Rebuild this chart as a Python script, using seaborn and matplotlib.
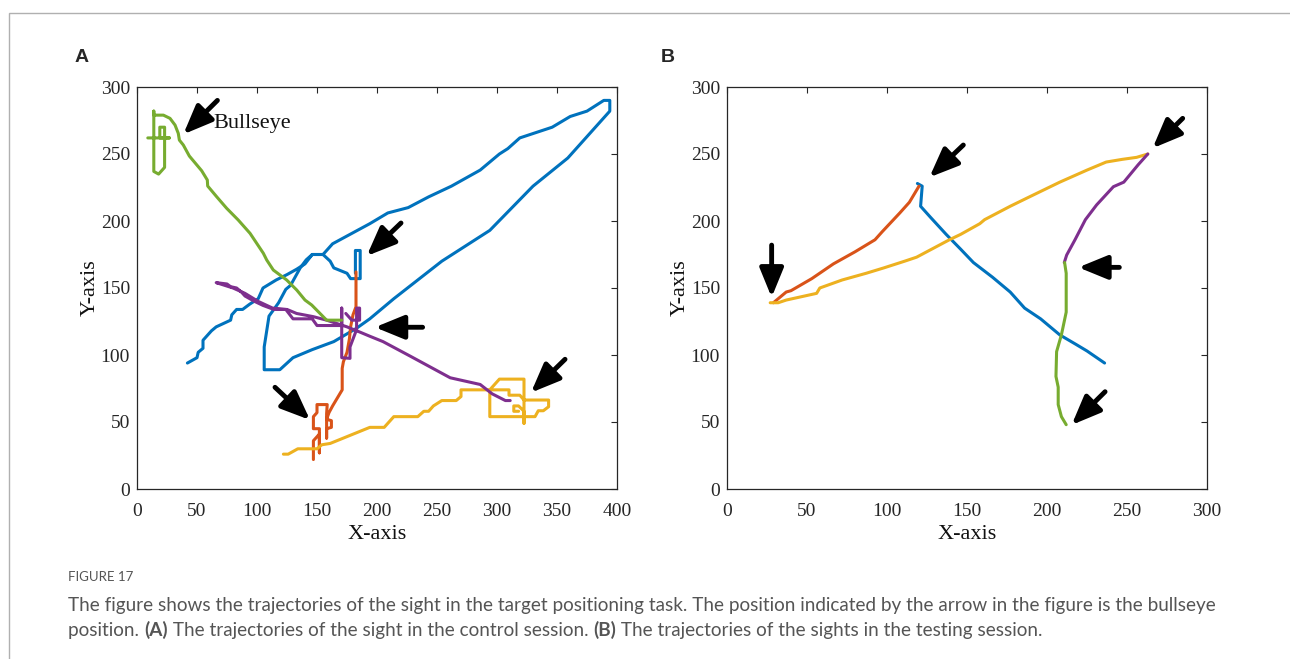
import numpy as np
import pandas as pd
import matplotlib
matplotlib.use("Agg")
import matplotlib.pyplot as plt
import matplotlib.patches as mpatches
import seaborn as sns

# === Trajectory data ===

# Panel A (control session)
a_blue_x = [42, 50, 51, 55, 55, 62, 66, 78, 79, 83, 88, 94, 101, 105, 116, 125, 133, 140, 146, 155,
            163, 194, 209, 226, 243, 262, 286, 302, 309, 319, 346, 361, 375, 389, 394, 394,
            359, 330, 294, 254, 214, 194, 183, 164, 146, 130, 119, 106, 106, 110, 118, 124,
            128, 136, 141, 146, 155, 161, 164, 175, 178, 186, 186, 182, 182]
a_blue_y = [94, 98, 102, 105, 111, 118, 121, 126, 130, 134, 134, 138, 142, 150, 156, 160, 164, 168, 175, 175,
            183, 198, 206, 210, 218, 226, 238, 250, 254, 262, 270, 278, 282, 290, 290, 282,
            247, 226, 193, 170, 142, 127, 120, 110, 104, 98, 89, 89, 106, 129, 139, 149,
            152, 165, 171, 175, 175, 170, 165, 161, 157, 157, 178, 178, 161]

a_orange_x = [182.5, 182.5, 180, 178, 177, 175, 172, 171, 171, 163, 160, 158, 162, 162, 158, 158,
              158, 158, 158.5, 150, 150, 147, 147, 152, 152, 152, 147, 147]
a_orange_y = [162, 136, 130, 121, 112, 102, 95, 90, 74, 62, 57, 52, 51, 46, 45, 38,
              45, 56, 63, 63, 57, 54, 45, 45, 27, 41, 36, 22]

a_yellow_x = [122, 126, 134, 150, 154, 161, 172, 183, 194, 206, 214, 234, 239, 243, 247, 254, 266, 270,
              270, 310, 310, 319, 322.5, 343, 343, 338.6, 334.4, 331.7, 294, 294, 302, 322.5, 322.5,
              322.5, 318, 314, 314, 318]
a_yellow_y = [26, 26, 30, 30, 33, 34, 38, 42, 46, 46, 54, 54, 58, 58, 62, 66, 66, 69,
              74, 74, 70, 70, 66.4, 66.4, 61.4, 58.4, 58.4, 54, 54, 74, 82, 82, 49,
              58, 62, 62, 58, 58]

a_purple_x = [311, 307, 296, 286, 261, 228, 205, 194, 186, 175, 158, 147, 133, 125, 114, 105, 98, 90, 87,
              83, 78, 75, 66, 80, 90, 101, 113, 124, 130, 146, 150, 170.6, 170.6, 170.6, 177.5,
              177.5, 183, 183, 185.5, 185.5, 179, 174]
a_purple_y = [66, 66, 71, 78, 83, 99, 110, 114, 117, 121, 126, 128.6, 131, 134, 134, 137, 140, 144, 147,
              150, 151, 153, 154, 150, 146, 140, 135, 134, 127, 127, 122, 122, 135, 98, 97.5,
              106, 119, 135, 135, 126, 126, 131]

a_green_x = [9, 27, 19, 19, 23, 23, 18, 14, 14, 14, 22, 27.5, 31.7, 34.4, 35.3, 38.6, 43.6, 53.9, 58.6,
             58.9, 66.4, 74.7, 84.4, 94.2, 105.3, 108.1, 113.6, 124.7, 133.1, 140, 145.6, 158, 170.6]
a_green_y = [262, 262, 262, 270, 270, 240, 235, 237, 282, 279, 279, 276.6, 271.6, 265.4, 260.4, 256.7,
             248.5, 237.5, 230.6, 226.1, 218.1, 209.5, 200.7, 190.8, 175.9, 170.9, 163.4, 156, 148.5,
             141, 137.3, 126, 126]

# Panel B (testing session)
b_blue_x = [119, 122, 121, 127, 137, 146, 154, 166, 177, 186, 196, 201, 208, 218, 225, 236]
b_blue_y = [228, 226, 211, 203, 190, 179, 169, 158, 147, 135, 127, 122, 115, 108, 103, 94]

b_orange_x = [29, 32, 37, 40, 53, 66.5, 80, 92.5, 97, 108, 114, 120]
b_orange_y = [139, 142, 147, 148, 157, 168, 177, 186, 192, 206, 214, 226]

b_yellow_x = [27, 32, 37, 56, 58, 72, 87, 98, 111, 118.5, 139, 146, 158, 161, 177, 189, 208, 225,
              237, 247, 256, 263]
b_yellow_y = [139, 139, 141, 146, 150, 156, 161, 165, 170, 173, 186, 190, 198, 201, 211, 218, 229,
              238, 244, 246, 247.5, 250]

b_purple_x = [263, 257, 248, 241.5, 231, 224, 217.5, 212.3, 210.8]
b_purple_y = [250, 242, 229, 225.6, 212, 201, 186, 174.6, 169]

b_green_x = [211, 212, 212, 212, 209, 206, 205.6, 207, 207, 209, 212]
b_green_y = [169, 161, 141, 132, 115, 102.5, 84, 76, 63, 54, 48]

# arrows: (tail_x, tail_y, tip_x, tip_y)
a_arrows = [(67, 290, 38.6, 264.7), (220, 198.5, 191.4, 173.9), (238, 120.7, 198.3, 120.7),
            (356.7, 96.8, 328.3, 71.9), (115, 75.9, 144.2, 51.5)]
b_arrows = [(27.9, 182, 27.9, 143), (147.7, 256.7, 126.5, 232.6), (284.8, 276.6, 266, 254.3),
            (245.2, 165.4, 219.6, 165.4), (236.3, 72.6, 215.4, 47.8)]

colors = {"blue": "#0072BD", "orange": "#D95319", "yellow": "#EDB120",
          "purple": "#7E2F8E", "green": "#77AC30"}

panel_a = [("blue", a_blue_x, a_blue_y), ("orange", a_orange_x, a_orange_y),
           ("yellow", a_yellow_x, a_yellow_y), ("purple", a_purple_x, a_purple_y),
           ("green", a_green_x, a_green_y)]
panel_b = [("blue", b_blue_x, b_blue_y), ("orange", b_orange_x, b_orange_y),
           ("yellow", b_yellow_x, b_yellow_y), ("purple", b_purple_x, b_purple_y),
           ("green", b_green_x, b_green_y)]

# === Figure ===
sns.set_style("white")
plt.rcParams["font.family"] = ["Liberation Serif", "DejaVu Serif"]

W, H = 1290, 659
fig = plt.figure(figsize=(W / 100, H / 100), dpi=100)

ax_a = fig.add_axes([137 / W, 1 - 489 / H, 480 / W, 402 / H])
ax_b = fig.add_axes([727 / W, 1 - 489 / H, 480 / W, 402 / H])


def draw_panel(ax, traces, arrows, xmax):
    for name, xs, ys in traces:
        df = pd.DataFrame({"x": xs, "y": ys})
        sns.lineplot(data=df, x="x", y="y", sort=False, estimator=None, ax=ax,
                     color=colors[name], linewidth=2.2)
    for tx, ty, hx, hy in arrows:
        ax.annotate("", xy=(hx, hy), xytext=(tx, ty),
                    arrowprops=dict(arrowstyle="-|>,head_length=1.1,head_width=0.45",
                                    mutation_scale=16, lw=3.5, color="black",
                                    shrinkA=0, shrinkB=0))
    ax.set_xlim(0, xmax)
    ax.set_ylim(0, 300)
    ax.set_xticks(np.arange(0, xmax + 1, 50))
    ax.set_yticks(np.arange(0, 301, 50))
    ax.tick_params(direction="in", length=4, width=0.8, top=True, right=True,
                   labelsize=14, colors="#262626")
    ax.tick_params(axis="x", pad=10)
    ax.tick_params(axis="y", pad=5)
    for s in ax.spines.values():
        s.set_color("#262626")
        s.set_linewidth(0.9)
    ax.set_xlabel("X-axis", fontsize=16, color="#111111", labelpad=4)
    ax.set_ylabel("Y-axis", fontsize=16, color="#111111", labelpad=1)


draw_panel(ax_a, panel_a, a_arrows, 400)
draw_panel(ax_b, panel_b, b_arrows, 300)

ax_a.text(64, 273, "Bullseye", fontsize=16, va="center", ha="left", color="#111111")

fig.text(82 / W, 1 - 58 / H, "A", fontsize=14, fontweight="bold", family="Liberation Sans",
         ha="center", va="center")
fig.text(668 / W, 1 - 58 / H, "B", fontsize=14, fontweight="bold", family="Liberation Sans",
         ha="center", va="center")

# outer frame
fig.add_artist(mpatches.Rectangle((9 / W, -0.1), 1.2, 1.1 - 13 / H, transform=fig.transFigure,
                                  fill=False, edgecolor="#b0b0b0", lw=1.0))

# caption
cap_kw = dict(family="Lato", color="#555555", fontsize=13.6, va="bottom")
fig.text(68 / W, 1 - 583 / H, "FIGURE 17", family="Lato", color="#555555", fontsize=9.5,
         va="bottom")
fig.text(68 / W, 1 - 614 / H,
         "The figure shows the trajectories of the sight in the target positioning task. "
         "The position indicated by the arrow in the figure is the bullseye", **cap_kw)
pieces = [("position. ", "normal"), ("(A)", "bold"),
          (" The trajectories of the sight in the control session. ", "normal"),
          ("(B)", "bold"), (" The trajectories of the sights in the testing session.", "normal")]
prev = fig.text(68 / W, 1 - 639 / H, pieces[0][0], **cap_kw)
for txt, wt in pieces[1:]:
    prev = ax_a.annotate(txt, xy=(1, 0), xycoords=prev, ha="left", fontweight=wt,
                         annotation_clip=False, **cap_kw)

fig.savefig("out.png", dpi=100)
